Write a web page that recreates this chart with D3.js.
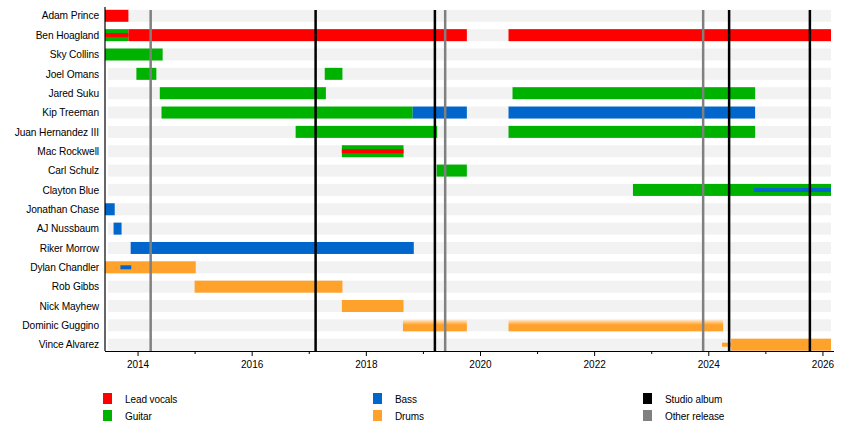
<!DOCTYPE html>
<html>
<head>
<meta charset="utf-8">
<script src="https://cdn.jsdelivr.net/npm/d3@7/dist/d3.min.js"></script>
<style>
  html, body { margin: 0; padding: 0; background: #fff; }
  svg { display: block; font-family: "Liberation Sans", Arial, sans-serif; }
</style>
</head>
<body>
<svg id="chart" width="850" height="440"></svg>
<script>
// ---------- data ----------
const members = [
  "Adam Prince", "Ben Hoagland", "Sky Collins", "Joel Omans", "Jared Suku",
  "Kip Treeman", "Juan Hernandez III", "Mac Rockwell", "Carl Schulz",
  "Clayton Blue", "Jonathan Chase", "AJ Nussbaum", "Riker Morrow",
  "Dylan Chandler", "Rob Gibbs", "Nick Mayhew", "Dominic Guggino", "Vince Alvarez"
];
const roles = ["Lead vocals", "Guitar", "Bass", "Drums"];
const releaseTypes = ["Studio album", "Other release"];

const timeStart = 2013.43;
const timeEnd = 2026.15;

// main periods: [member, role, start, end] (decimal years)
const periods = [
  ["Adam Prince", "Lead vocals", 2013.43, 2013.84],
  ["Ben Hoagland", "Guitar", 2013.43, 2013.84],
  ["Ben Hoagland", "Lead vocals", 2013.84, 2019.77],
  ["Ben Hoagland", "Lead vocals", 2020.50, 2026.15],
  ["Sky Collins", "Guitar", 2013.43, 2014.44],
  ["Joel Omans", "Guitar", 2013.98, 2014.33],
  ["Joel Omans", "Guitar", 2017.28, 2017.59],
  ["Jared Suku", "Guitar", 2014.39, 2017.30],
  ["Jared Suku", "Guitar", 2020.57, 2024.82],
  ["Kip Treeman", "Guitar", 2014.42, 2018.82],
  ["Kip Treeman", "Bass", 2018.82, 2019.77],
  ["Kip Treeman", "Bass", 2020.50, 2024.82],
  ["Juan Hernandez III", "Guitar", 2016.77, 2019.25],
  ["Juan Hernandez III", "Guitar", 2020.50, 2024.82],
  ["Mac Rockwell", "Guitar", 2017.58, 2018.66],
  ["Carl Schulz", "Guitar", 2019.24, 2019.77],
  ["Clayton Blue", "Guitar", 2022.68, 2026.15],
  ["Jonathan Chase", "Bass", 2013.43, 2013.60],
  ["AJ Nussbaum", "Bass", 2013.58, 2013.72],
  ["Riker Morrow", "Bass", 2013.88, 2018.84],
  ["Dylan Chandler", "Drums", 2013.43, 2015.02],
  ["Rob Gibbs", "Drums", 2015.00, 2017.59],
  ["Nick Mayhew", "Drums", 2017.58, 2018.66],
  ["Dominic Guggino", "Drums", 2018.65, 2019.77],
  ["Dominic Guggino", "Drums", 2020.50, 2024.26],
  ["Vince Alvarez", "Drums", 2024.40, 2026.15]
];

// secondary roles (thin bars): [member, role, start, end]
const secondary = [
  ["Ben Hoagland", "Lead vocals", 2013.43, 2013.84],
  ["Mac Rockwell", "Lead vocals", 2017.58, 2018.66],
  ["Clayton Blue", "Bass", 2024.80, 2026.15],
  ["Dylan Chandler", "Bass", 2013.70, 2013.89],
  ["Vince Alvarez", "Drums", 2024.24, 2024.40]
];

// periods drawn with faded pattern
const fadedMembers = ["Dominic Guggino"];

// releases: [type, date]
const releases = [
  ["Other release", 2014.23],
  ["Studio album", 2017.12],
  ["Studio album", 2019.21],
  ["Other release", 2019.39],
  ["Other release", 2023.91],
  ["Studio album", 2024.365],
  ["Studio album", 2025.78]
];

const majorTickYears = [2014, 2016, 2018, 2020, 2022, 2024, 2026];
const minorTickYears = [2015, 2017, 2019, 2021, 2023, 2025];

// ---------- styles ----------
const roleColor = d3.scaleOrdinal()
  .domain(roles)
  .range(["#ff0000", "#00b200", "#0066cc", "#ffa22c"]);
const releaseColor = d3.scaleOrdinal()
  .domain(releaseTypes)
  .range(["#000000", "#808080"]);

// ---------- layout ----------
const svg = d3.select("#chart");
const plotLeft = 105, plotRight = 831, plotTop = 10, plotBottom = 351;
const barH = 12, thinH = 4;

const x = d3.scaleLinear().domain([timeStart, timeEnd]).range([plotLeft, plotRight]);
const y = d3.scalePoint().domain(members).range([15.8, 344.7]);

const defs = svg.append("defs");
const grad = defs.append("linearGradient")
  .attr("id", "fade").attr("x1", 0).attr("y1", 0).attr("x2", 0).attr("y2", 1);
grad.append("stop").attr("offset", "0%").attr("stop-color", "#fff0dc");
grad.append("stop").attr("offset", "45%").attr("stop-color", roleColor("Drums"));
grad.append("stop").attr("offset", "100%").attr("stop-color", roleColor("Drums"));

// background stripes
svg.append("g").selectAll("rect").data(members).join("rect")
  .attr("x", plotLeft + 3)
  .attr("width", plotRight - plotLeft - 3)
  .attr("y", d => y(d) - barH / 2)
  .attr("height", barH)
  .attr("fill", "#f2f2f2");

// main bars
svg.append("g").selectAll("rect").data(periods).join("rect")
  .attr("x", d => x(d[2]))
  .attr("width", d => x(d[3]) - x(d[2]))
  .attr("y", d => y(d[0]) - barH / 2)
  .attr("height", barH)
  .attr("fill", d => fadedMembers.includes(d[0]) ? "url(#fade)" : roleColor(d[1]));

// secondary thin bars
svg.append("g").selectAll("rect").data(secondary).join("rect")
  .attr("x", d => x(d[2]))
  .attr("width", d => x(d[3]) - x(d[2]))
  .attr("y", d => y(d[0]) - thinH / 2)
  .attr("height", thinH)
  .attr("fill", d => roleColor(d[1]));

// release lines
svg.append("g").selectAll("line").data(releases).join("line")
  .attr("x1", d => x(d[1])).attr("x2", d => x(d[1]))
  .attr("y1", plotTop).attr("y2", plotBottom)
  .attr("stroke", d => releaseColor(d[0]))
  .attr("stroke-width", 2.5);

// left axis line
svg.append("line")
  .attr("x1", plotLeft).attr("x2", plotLeft)
  .attr("y1", 7).attr("y2", plotBottom)
  .attr("stroke", "#000").attr("stroke-width", 1.2);

// member labels
svg.append("g").selectAll("text").data(members).join("text")
  .attr("x", 99)
  .attr("y", d => y(d))
  .attr("dy", "0.36em")
  .attr("text-anchor", "end")
  .attr("font-size", "10.2px")
  .attr("letter-spacing", "-0.1px")
  .attr("fill", "#000")
  .text(d => d);

// bottom axis
const axis = d3.axisBottom(x)
  .tickValues(majorTickYears)
  .tickFormat(d3.format("d"))
  .tickSize(5)
  .tickPadding(5);
const gAxis = svg.append("g")
  .attr("transform", `translate(0,${plotBottom})`)
  .call(axis);
gAxis.select(".domain").attr("d", `M${plotLeft},0.5H${plotRight + 3}`).attr("stroke-width", 1.2);
gAxis.selectAll("text").attr("font-size", "10px").attr("font-family", "Liberation Sans, Arial, sans-serif");
const minorAxis = d3.axisBottom(x).tickValues(minorTickYears).tickFormat("").tickSize(3);
const gMinor = svg.append("g").attr("transform", `translate(0,${plotBottom})`).call(minorAxis);
gMinor.select(".domain").remove();

// legend
const legendItems = [
  { label: "Lead vocals", color: roleColor("Lead vocals"), col: 0, row: 0 },
  { label: "Guitar", color: roleColor("Guitar"), col: 0, row: 1 },
  { label: "Bass", color: roleColor("Bass"), col: 1, row: 0 },
  { label: "Drums", color: roleColor("Drums"), col: 1, row: 1 },
  { label: "Studio album", color: releaseColor("Studio album"), col: 2, row: 0 },
  { label: "Other release", color: releaseColor("Other release"), col: 2, row: 1 }
];
const lg = svg.append("g").selectAll("g").data(legendItems).join("g")
  .attr("transform", d => `translate(${103 + d.col * 270},${393 + d.row * 17})`);
lg.append("rect").attr("width", 9).attr("height", 11).attr("fill", d => d.color);
lg.append("text").attr("x", 22).attr("y", 10).attr("font-size", "10px").attr("letter-spacing", "-0.1px").text(d => d.label);
</script>
</body>
</html>
